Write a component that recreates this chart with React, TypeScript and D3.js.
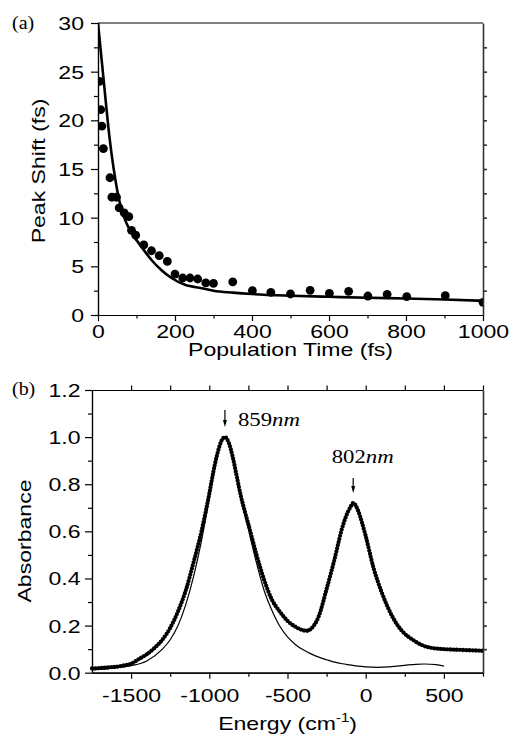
import React, { useEffect, useRef } from 'react';
import * as d3 from 'd3';

// panel (a): peak shift vs population time
const shiftTime = [4, 7, 10, 14, 31, 36, 48, 55, 68, 80, 87, 98, 119, 139, 159, 180, 200, 220, 239, 259, 280, 300, 350, 401, 449, 500, 551, 601, 651, 701, 751, 802, 902, 1000];
const shiftValue = [24.0, 21.1, 19.4, 17.1, 14.1, 12.1, 12.1, 11.0, 10.5, 10.1, 8.7, 8.2, 7.2, 6.6, 6.1, 5.5, 4.2, 3.8, 3.8, 3.7, 3.3, 3.25, 3.4, 2.5, 2.33, 2.16, 2.54, 2.23, 2.43, 1.95, 2.12, 1.88, 1.99, 1.3];
const fitTime = [0, 10, 20, 30, 40, 50, 60, 70, 88, 113, 139, 165, 191, 226, 269, 300, 350, 400, 500, 600, 700, 800, 900, 1000];
const fitShift = [30, 26, 22, 18.2, 15.2, 12.8, 11.0, 9.8, 8.4, 7.0, 5.65, 4.6, 3.8, 3.1, 2.75, 2.5, 2.3, 2.15, 1.98, 1.87, 1.77, 1.7, 1.6, 1.45];

// panel (b): absorbance spectrum (dots) and fit (thin line)
const energy = [-1750, -1650, -1550, -1500, -1450, -1400, -1350, -1300, -1250, -1200, -1150, -1100, -1050, -1000, -975, -950, -925, -900, -875, -850, -825, -800, -775, -750, -700, -650, -600, -550, -500, -450, -400, -375, -350, -300, -250, -200, -150, -125, -100, -80, -50, -25, 0, 50, 100, 150, 200, 250, 300, 350, 400, 500, 600, 750];
const absorbance = [0.018, 0.022, 0.03, 0.038, 0.058, 0.078, 0.105, 0.14, 0.19, 0.26, 0.35, 0.47, 0.6, 0.76, 0.85, 0.925, 0.98, 1.0, 0.975, 0.915, 0.835, 0.755, 0.69, 0.63, 0.505, 0.395, 0.31, 0.26, 0.22, 0.195, 0.18, 0.178, 0.186, 0.24, 0.355, 0.48, 0.615, 0.665, 0.7, 0.72, 0.69, 0.64, 0.58, 0.445, 0.345, 0.265, 0.205, 0.165, 0.14, 0.12, 0.108, 0.1, 0.097, 0.093];
const fitEnergy = [-1750, -1600, -1500, -1400, -1300, -1250, -1200, -1150, -1100, -1050, -1000, -950, -925, -900, -875, -850, -800, -750, -700, -650, -600, -550, -500, -450, -400, -350, -300, -250, -200, -150, -100, -50, 0, 75, 150, 200, 300, 375, 450, 500];
const fitAbsorbance = [0.012, 0.02, 0.03, 0.05, 0.1, 0.14, 0.2, 0.29, 0.41, 0.56, 0.74, 0.915, 0.975, 1.0, 0.975, 0.915, 0.745, 0.61, 0.47, 0.35, 0.265, 0.198, 0.152, 0.12, 0.097, 0.08, 0.066, 0.055, 0.045, 0.038, 0.033, 0.028, 0.025, 0.023, 0.025, 0.028, 0.034, 0.037, 0.034, 0.028];

const peakNm = ['859', '802'];
const peakEnergy = [-900, -80];
const peakAbs = [1.0, 0.72];

const SANS = '"Liberation Sans", Arial, Helvetica, sans-serif';
const SERIF = '"Liberation Serif", "Times New Roman", serif';
const FS = 18.6;
const SX = 1.24; // the figure's lettering is wide

const App = () => {
    const svgRef = useRef(null);

    useEffect(() => {
        const svg = d3.select(svgRef.current);
        svg.selectAll('*').remove();

        const styleAxis = (g, color = '#000', width = 1.2) => {
            g.attr('font-family', SANS).attr('font-size', FS);
            g.selectAll('line').attr('stroke', color).attr('stroke-width', width);
            g.select('.domain').attr('stroke', color).attr('stroke-width', width);
        };
        const bottomLabels = (g, off) =>
            g.selectAll('text')
                .attr('y', 0).attr('dy', 0).attr('fill', '#000')
                .attr('transform', `translate(0,${off}) scale(${SX},1)`);
        const leftLabels = (g, off) =>
            g.selectAll('text')
                .attr('x', 0).attr('dy', '0.35em').attr('fill', '#000')
                .attr('transform', `translate(${-off},0) scale(${SX},1)`);

        const sansText = (x, y, txt, rot = 0) =>
            svg.append('text')
                .attr('transform', `translate(${x},${y}) rotate(${rot}) scale(${SX},1)`)
                .attr('text-anchor', 'middle')
                .attr('font-family', SANS)
                .attr('font-size', FS)
                .text(txt);

        // ---------- panel (a)
        const xA = d3.scaleLinear().domain([0, 1000]).range([98, 483]);
        const yA = d3.scaleLinear().domain([0, 30]).range([315, 23]);

        svg.append('clipPath').attr('id', 'clipA')
            .append('rect').attr('x', 98).attr('y', 0).attr('width', 385).attr('height', 315);

        const gA = svg.append('g').attr('clip-path', 'url(#clipA)');
        gA.append('path')
            .datum(fitTime.map((t, i) => [t, fitShift[i]]))
            .attr('fill', 'none')
            .attr('stroke', '#000')
            .attr('stroke-width', 2.6)
            .attr('d', d3.line().x(d => xA(d[0])).y(d => yA(d[1])).curve(d3.curveMonotoneX));
        gA.selectAll('circle')
            .data(shiftTime.map((t, i) => [t, shiftValue[i]]))
            .join('circle')
            .attr('cx', d => xA(d[0]))
            .attr('cy', d => yA(d[1]))
            .attr('r', 4.4)
            .attr('fill', '#000');

        // top frame line
        svg.append('line').attr('x1', 98).attr('x2', 483).attr('y1', 23).attr('y2', 23)
            .attr('stroke', '#000').attr('stroke-width', 1.2);

        const axA = svg.append('g').attr('transform', 'translate(0,315)')
            .call(d3.axisBottom(xA).tickValues(d3.range(0, 1001, 200)).tickSize(6).tickSizeOuter(0).tickFormat(d => String(d)));
        styleAxis(axA);
        bottomLabels(axA, 22.5);
        const axAm = svg.append('g').attr('transform', 'translate(0,315)')
            .call(d3.axisBottom(xA).tickValues(d3.range(100, 1000, 200)).tickSize(3.5).tickSizeOuter(0).tickFormat(() => ''));
        styleAxis(axAm);

        const ayA = svg.append('g').attr('transform', 'translate(98,0)')
            .call(d3.axisLeft(yA).tickValues(d3.range(0, 31, 5)).tickSize(7).tickSizeOuter(0).tickFormat(d => String(d)));
        styleAxis(ayA);
        leftLabels(ayA, 14);
        const ayAm = svg.append('g').attr('transform', 'translate(98,0)')
            .call(d3.axisLeft(yA).tickValues(d3.range(2.5, 30, 5)).tickSize(4).tickSizeOuter(0).tickFormat(() => ''));
        styleAxis(ayAm);

        const ryA = svg.append('g').attr('transform', 'translate(483,0)')
            .call(d3.axisRight(yA).tickValues(d3.range(2.5, 30, 2.5)).tickSize(4).tickSizeOuter(0).tickFormat(() => ''));
        styleAxis(ryA, '#333', 1.6);

        sansText(290.5, 355.5, 'Population Time (fs)');
        sansText(45, 171, 'Peak Shift (fs)', -90);

        svg.append('text')
            .attr('transform', `translate(12,29) scale(1.05,1)`)
            .attr('font-family', SERIF).attr('font-size', 19)
            .text('(a)');

        // ---------- panel (b)
        const xB = d3.scaleLinear().domain([-1750, 750]).range([92, 483]);
        const yB = d3.scaleLinear().domain([0, 1.2]).range([672.7, 390]);

        svg.append('path')
            .datum(fitEnergy.map((e, i) => [e, fitAbsorbance[i]]))
            .attr('fill', 'none')
            .attr('stroke', '#000')
            .attr('stroke-width', 1.2)
            .attr('d', d3.line().x(d => xB(d[0])).y(d => yB(d[1])).curve(d3.curveMonotoneX));

        svg.append('path')
            .datum(energy.map((e, i) => [e, absorbance[i]]))
            .attr('fill', 'none')
            .attr('stroke', '#000')
            .attr('stroke-width', 4.3)
            .attr('stroke-linecap', 'round')
            .attr('stroke-dasharray', '0 3.2')
            .attr('d', d3.line().x(d => xB(d[0])).y(d => yB(d[1])).curve(d3.curveMonotoneX));

        const axB = svg.append('g').attr('transform', 'translate(0,672.7)')
            .call(d3.axisBottom(xB).tickValues(d3.range(-1500, 501, 500)).tickSize(6).tickSizeOuter(0).tickFormat(d => String(d)));
        styleAxis(axB);
        bottomLabels(axB, 29);
        const axBm = svg.append('g').attr('transform', 'translate(0,672.7)')
            .call(d3.axisBottom(xB).tickValues(d3.range(-1250, 751, 500)).tickSize(4).tickSizeOuter(0).tickFormat(() => ''));
        styleAxis(axBm);

        const txB = svg.append('g').attr('transform', 'translate(0,390)')
            .call(d3.axisTop(xB).tickValues(d3.range(-1500, 751, 250)).tickSize(4.5).tickSizeOuter(0).tickFormat(() => ''));
        styleAxis(txB);

        const ayB = svg.append('g').attr('transform', 'translate(92,0)')
            .call(d3.axisLeft(yB).tickValues(d3.range(0, 1.21, 0.2)).tickSize(7).tickSizeOuter(0).tickFormat(d3.format('.1f')));
        styleAxis(ayB);
        leftLabels(ayB, 11.5);
        const ayBm = svg.append('g').attr('transform', 'translate(92,0)')
            .call(d3.axisLeft(yB).tickValues(d3.range(0.1, 1.2, 0.2)).tickSize(4).tickSizeOuter(0).tickFormat(() => ''));
        styleAxis(ayBm);

        const ryB = svg.append('g').attr('transform', 'translate(483,0)')
            .call(d3.axisRight(yB).tickValues(d3.range(0.1, 1.2, 0.1)).tickSize(4).tickSizeOuter(0).tickFormat(() => ''));
        styleAxis(ryB, '#333', 1.6);

        const eTitle = svg.append('text')
            .attr('transform', `translate(287.5,730) scale(${SX},1)`)
            .attr('text-anchor', 'middle')
            .attr('font-family', SANS)
            .attr('font-size', FS);
        eTitle.append('tspan').text('Energy (cm');
        eTitle.append('tspan').attr('font-size', 12).attr('dy', -8).text('-1');
        eTitle.append('tspan').attr('dy', 8).text(')');

        sansText(30.5, 541, 'Absorbance', -90);

        svg.append('text')
            .attr('transform', `translate(12,395) scale(1.05,1)`)
            .attr('font-family', SERIF).attr('font-size', 19)
            .text('(b)');

        // peak markers
        const arrowLen = [17, 15];
        const textDx = [13, -21.5];
        const textDy = [-1, -30];
        peakNm.forEach((nm, i) => {
            const x = xB(peakEnergy[i]);
            const tip = yB(peakAbs[i]) - 10;
            svg.append('line')
                .attr('x1', x).attr('x2', x)
                .attr('y1', tip - arrowLen[i]).attr('y2', tip - 5)
                .attr('stroke', '#000').attr('stroke-width', 1.2);
            svg.append('path')
                .attr('d', `M${x - 2},${tip - 7}L${x + 2},${tip - 7}L${x},${tip}Z`)
                .attr('fill', '#000');
            const t = svg.append('text')
                .attr('transform', `translate(${x + textDx[i]},${tip + textDy[i]}) scale(1.2,1)`)
                .attr('font-family', SERIF)
                .attr('font-size', 19);
            t.append('tspan').text(nm);
            t.append('tspan').attr('font-style', 'italic').text('nm');
        });
    }, []);

    return (
        <svg
            ref={svgRef}
            width={509}
            height={736}
            style={{ position: 'absolute', left: 0, top: 0, background: '#fff' }}
        ></svg>
    );
};

export default App;
